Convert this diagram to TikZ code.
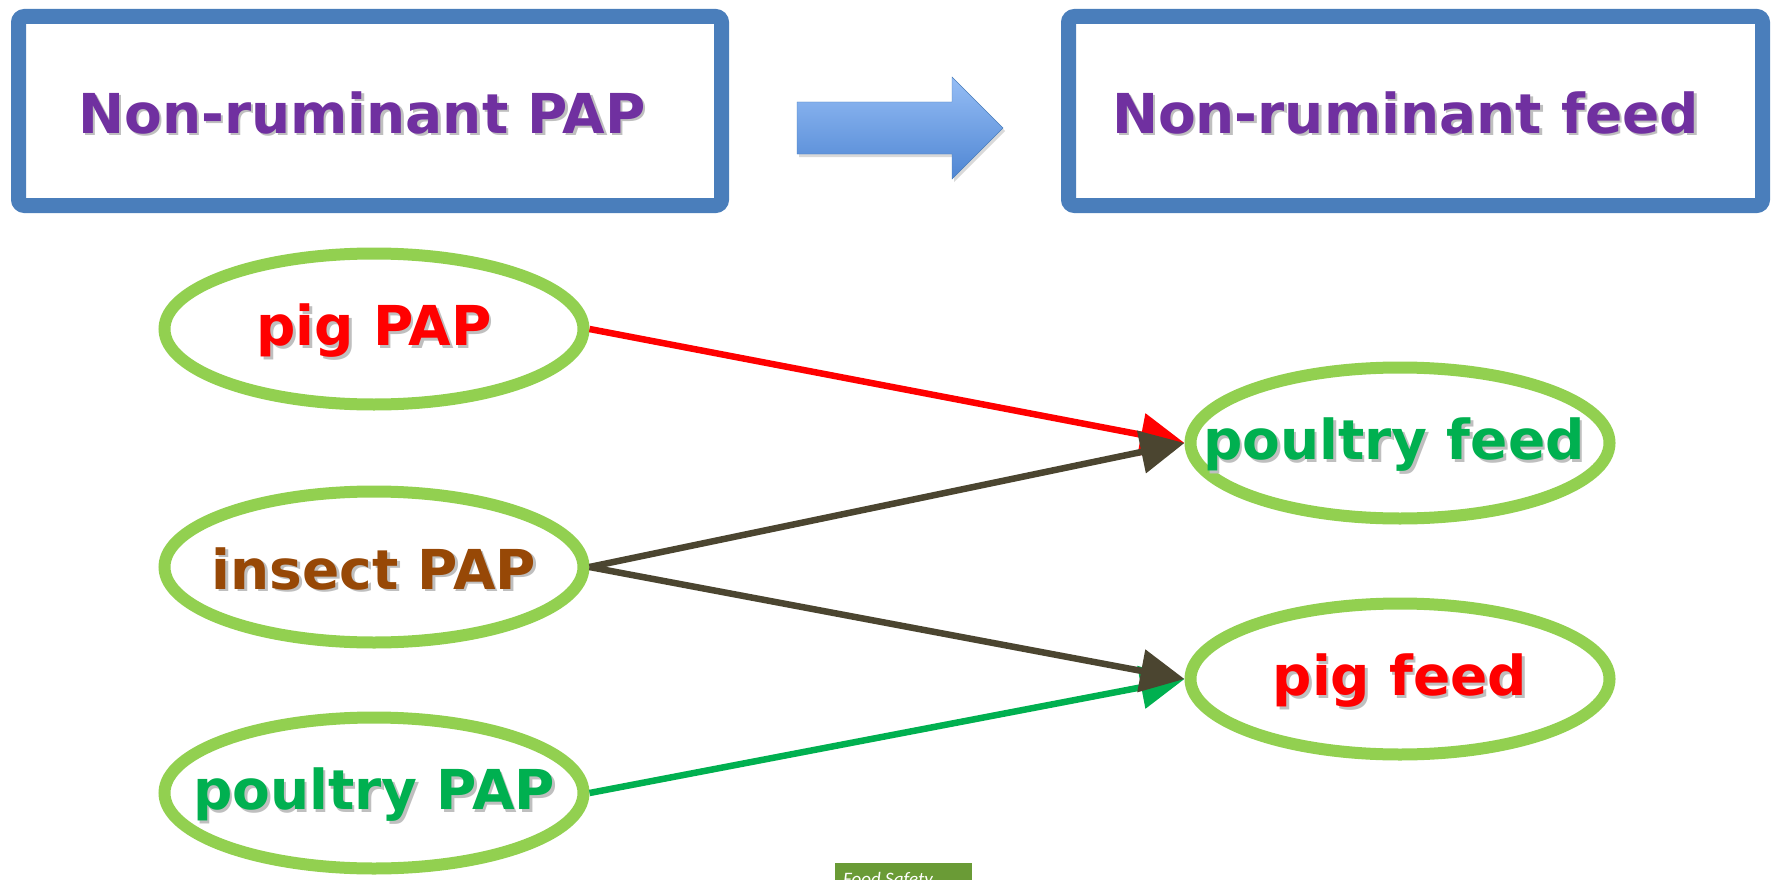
\documentclass[tikz,border=0pt]{standalone}
\usepackage{fontspec}
\setmainfont{DejaVu Sans}
\newfontfamily\footfont{Carlito}
\usetikzlibrary{arrows.meta, shapes.geometric, shadows}

\definecolor{boxblue}{HTML}{4A7EBB}
\definecolor{titlepurple}{HTML}{7030A0}
\definecolor{ringgreen}{HTML}{92D050}
\definecolor{pigred}{HTML}{FF0000}
\definecolor{insectbrown}{HTML}{974806}
\definecolor{poultrygreen}{HTML}{00B050}
\definecolor{darkolive}{HTML}{4B4530}
\definecolor{footgreen}{HTML}{6A9B36}
\definecolor{arrowtop}{HTML}{95BDF5}
\definecolor{arrowbottom}{HTML}{4F86D3}

\newcommand\shtxt[2]{\makebox[0pt][l]{\hspace{2.5pt}\raisebox{-2.5pt}{\color{black!25}#2}}\textcolor{#1}{#2}}

\begin{document}
\begin{tikzpicture}[x=1pt, y=-1pt, >={Triangle[length=44pt,width=42pt]},
                    bigbox/.style = {draw = boxblue, line width = 15pt, rounded corners = 6pt,
                                     fill = white, minimum width = #1, minimum height = 189pt,
                                     inner sep = 0pt,
                                     drop shadow = {opacity = .3, shadow xshift = 2pt, shadow yshift = -3pt}},
                    ring/.style = {ellipse, draw = ringgreen, line width = 12pt, fill = white,
                                   minimum width = 419pt, minimum height = 151pt, inner sep = 0pt,
                                   drop shadow = {opacity = .2, shadow xshift = 2pt, shadow yshift = -3pt}},
                    word/.style = {font = \fontsize{55}{60}\selectfont\bfseries, yshift = -3pt},
                    link/.style = {->, line width = 6.5pt}
                   ]
     \useasboundingbox (0,0) rectangle (1777,880);

     % headline
     \node[bigbox = 703pt, label = {[word, xshift = -8pt]center:\shtxt{titlepurple}{Non-ruminant PAP}}]
           (np) at (370,111) {};
     \node[bigbox = 694pt, label = {[word, xshift = -10pt]center:\shtxt{titlepurple}{Non-ruminant feed}}]
           (nf) at (1415.5,111) {};

     \shade[top color = arrowtop, bottom color = arrowbottom, draw = boxblue,
            drop shadow = {opacity = .3, shadow xshift = 2pt, shadow yshift = -3pt}]
           (797,102) -- (952,102) -- (952,77) -- (1003,128) -- (952,179) -- (952,154) -- (797,154) -- cycle;

     % sources and targets
     \node[ring, label = {[word]center:\shtxt{pigred}{pig PAP}}] (pigpap) at (374,329) {};
     \node[ring, label = {[word]center:\shtxt{insectbrown}{insect PAP}}] (inspap) at (374,567) {};
     \node[ring, label = {[word]center:\shtxt{poultrygreen}{poultry PAP}}] (poupap) at (374,793) {};

     \node[ring, label = {[word, xshift = -6pt]center:\shtxt{poultrygreen}{poultry feed}}] (poufeed) at (1400,443) {};
     \node[ring, label = {[word]center:\shtxt{pigred}{pig feed}}] (pigfeed) at (1400,679) {};

     \draw[link, pigred] (pigpap.east) -- (poufeed.west);
     \draw[link, darkolive] (inspap.east) -- (poufeed.west);
     \draw[link, poultrygreen] (poupap.east) -- (pigfeed.west);
     \draw[link, darkolive] (inspap.east) -- (pigfeed.west);

     % footer tab, cut by the page edge
     \begin{scope}
       \clip (0,0) rectangle (1777,880);
       \fill[footgreen] (835,863) rectangle (972,895);
       \node[anchor = base west, inner sep = 0pt, text = white,
             font = \footfont\itshape\fontsize{19}{20}\selectfont] (foot) at (843,885) {Food Safety};
     \end{scope}
\end{tikzpicture}
\end{document}
